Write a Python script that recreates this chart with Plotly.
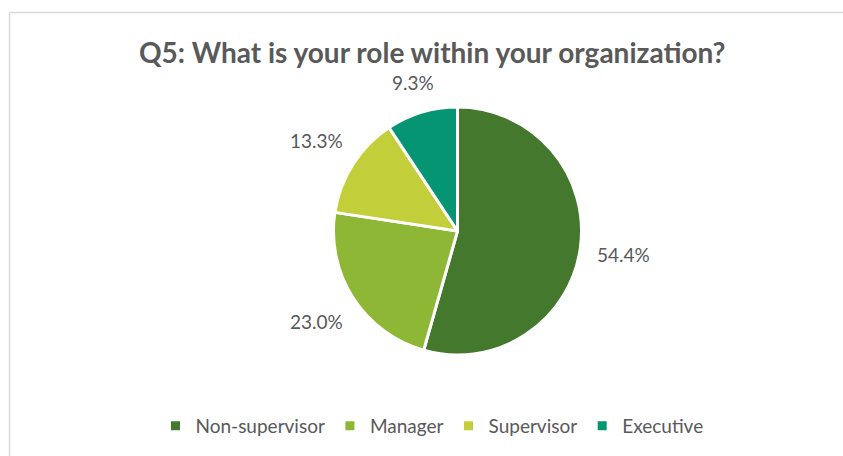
import math
import plotly.graph_objects as go

categories = ["Non-supervisor", "Manager", "Supervisor", "Executive"]
values = [54.4, 23.0, 13.3, 9.3]
colors = ["#43782D", "#8DB735", "#C3CF3A", "#059573"]
title_text = "Q5: What is your role within your organization?"

W, H = 843, 456
cx, cy, r = 457.5, 231.0, 124.0  # pie centre / radius in pixels
FONT = "Lato, Liberation Sans, sans-serif"

fig = go.Figure()
fig.add_trace(go.Pie(
    labels=categories,
    values=values,
    sort=False,
    direction="clockwise",
    rotation=0,
    marker=dict(colors=colors, line=dict(color="white", width=3)),
    textinfo="none",
    hoverinfo="label+percent",
    domain=dict(x=[(cx - r) / W, (cx + r) / W], y=[1 - (cy + r) / H, 1 - (cy - r) / H]),
))

# percentage labels placed outside, along each slice's mid-angle
total = sum(values)
cum = 0.0
for v in values:
    mid = (cum + v / 2) / total * 360.0
    cum += v
    ang = math.radians(90 - mid)
    ux, uy = math.cos(ang), math.sin(ang)
    label = f"{v / total * 100:.1f}%"
    hw = 5.3 * len(label)
    d = r + 16 + hw * abs(ux) + 9 * abs(uy)
    px, py = cx + d * ux, cy - d * uy
    fig.add_annotation(
        x=px / W, y=1 - py / H, xref="paper", yref="paper",
        text=label, showarrow=False,
        xanchor="center", yanchor="middle",
        font=dict(family=FONT, size=19, color="#595959"),
    )

fig.add_annotation(
    x=432 / W, y=1 - 52 / H, xref="paper", yref="paper",
    text=f"<b>{title_text}</b>", showarrow=False, xanchor="center", yanchor="middle",
    font=dict(family=FONT, size=28, color="#595959"),
)

# chart frame (top and left edges visible)
fig.add_shape(type="line", xref="paper", yref="paper",
              x0=9.5 / W, x1=1.0, y0=1 - 12.5 / H, y1=1 - 12.5 / H,
              line=dict(color="#D9D9D9", width=1.5))
fig.add_shape(type="line", xref="paper", yref="paper",
              x0=9.5 / W, x1=9.5 / W, y0=0, y1=1 - 12.5 / H,
              line=dict(color="#D9D9D9", width=1.5))

fig.update_layout(
    width=W, height=H,
    margin=dict(l=0, r=0, t=0, b=0),
    paper_bgcolor="white", plot_bgcolor="white",
    showlegend=True,
    legend=dict(
        orientation="h", x=432 / W, xanchor="center", y=1 - 426 / H, yanchor="middle",
        font=dict(family=FONT, size=19, color="#595959"),
        itemwidth=30, traceorder="normal",
    ),
)

fig.write_html(
    "out.html",
    config={"displayModeBar": False},
    post_script="document.body.style.margin='0';document.body.style.overflow='hidden';",
)
